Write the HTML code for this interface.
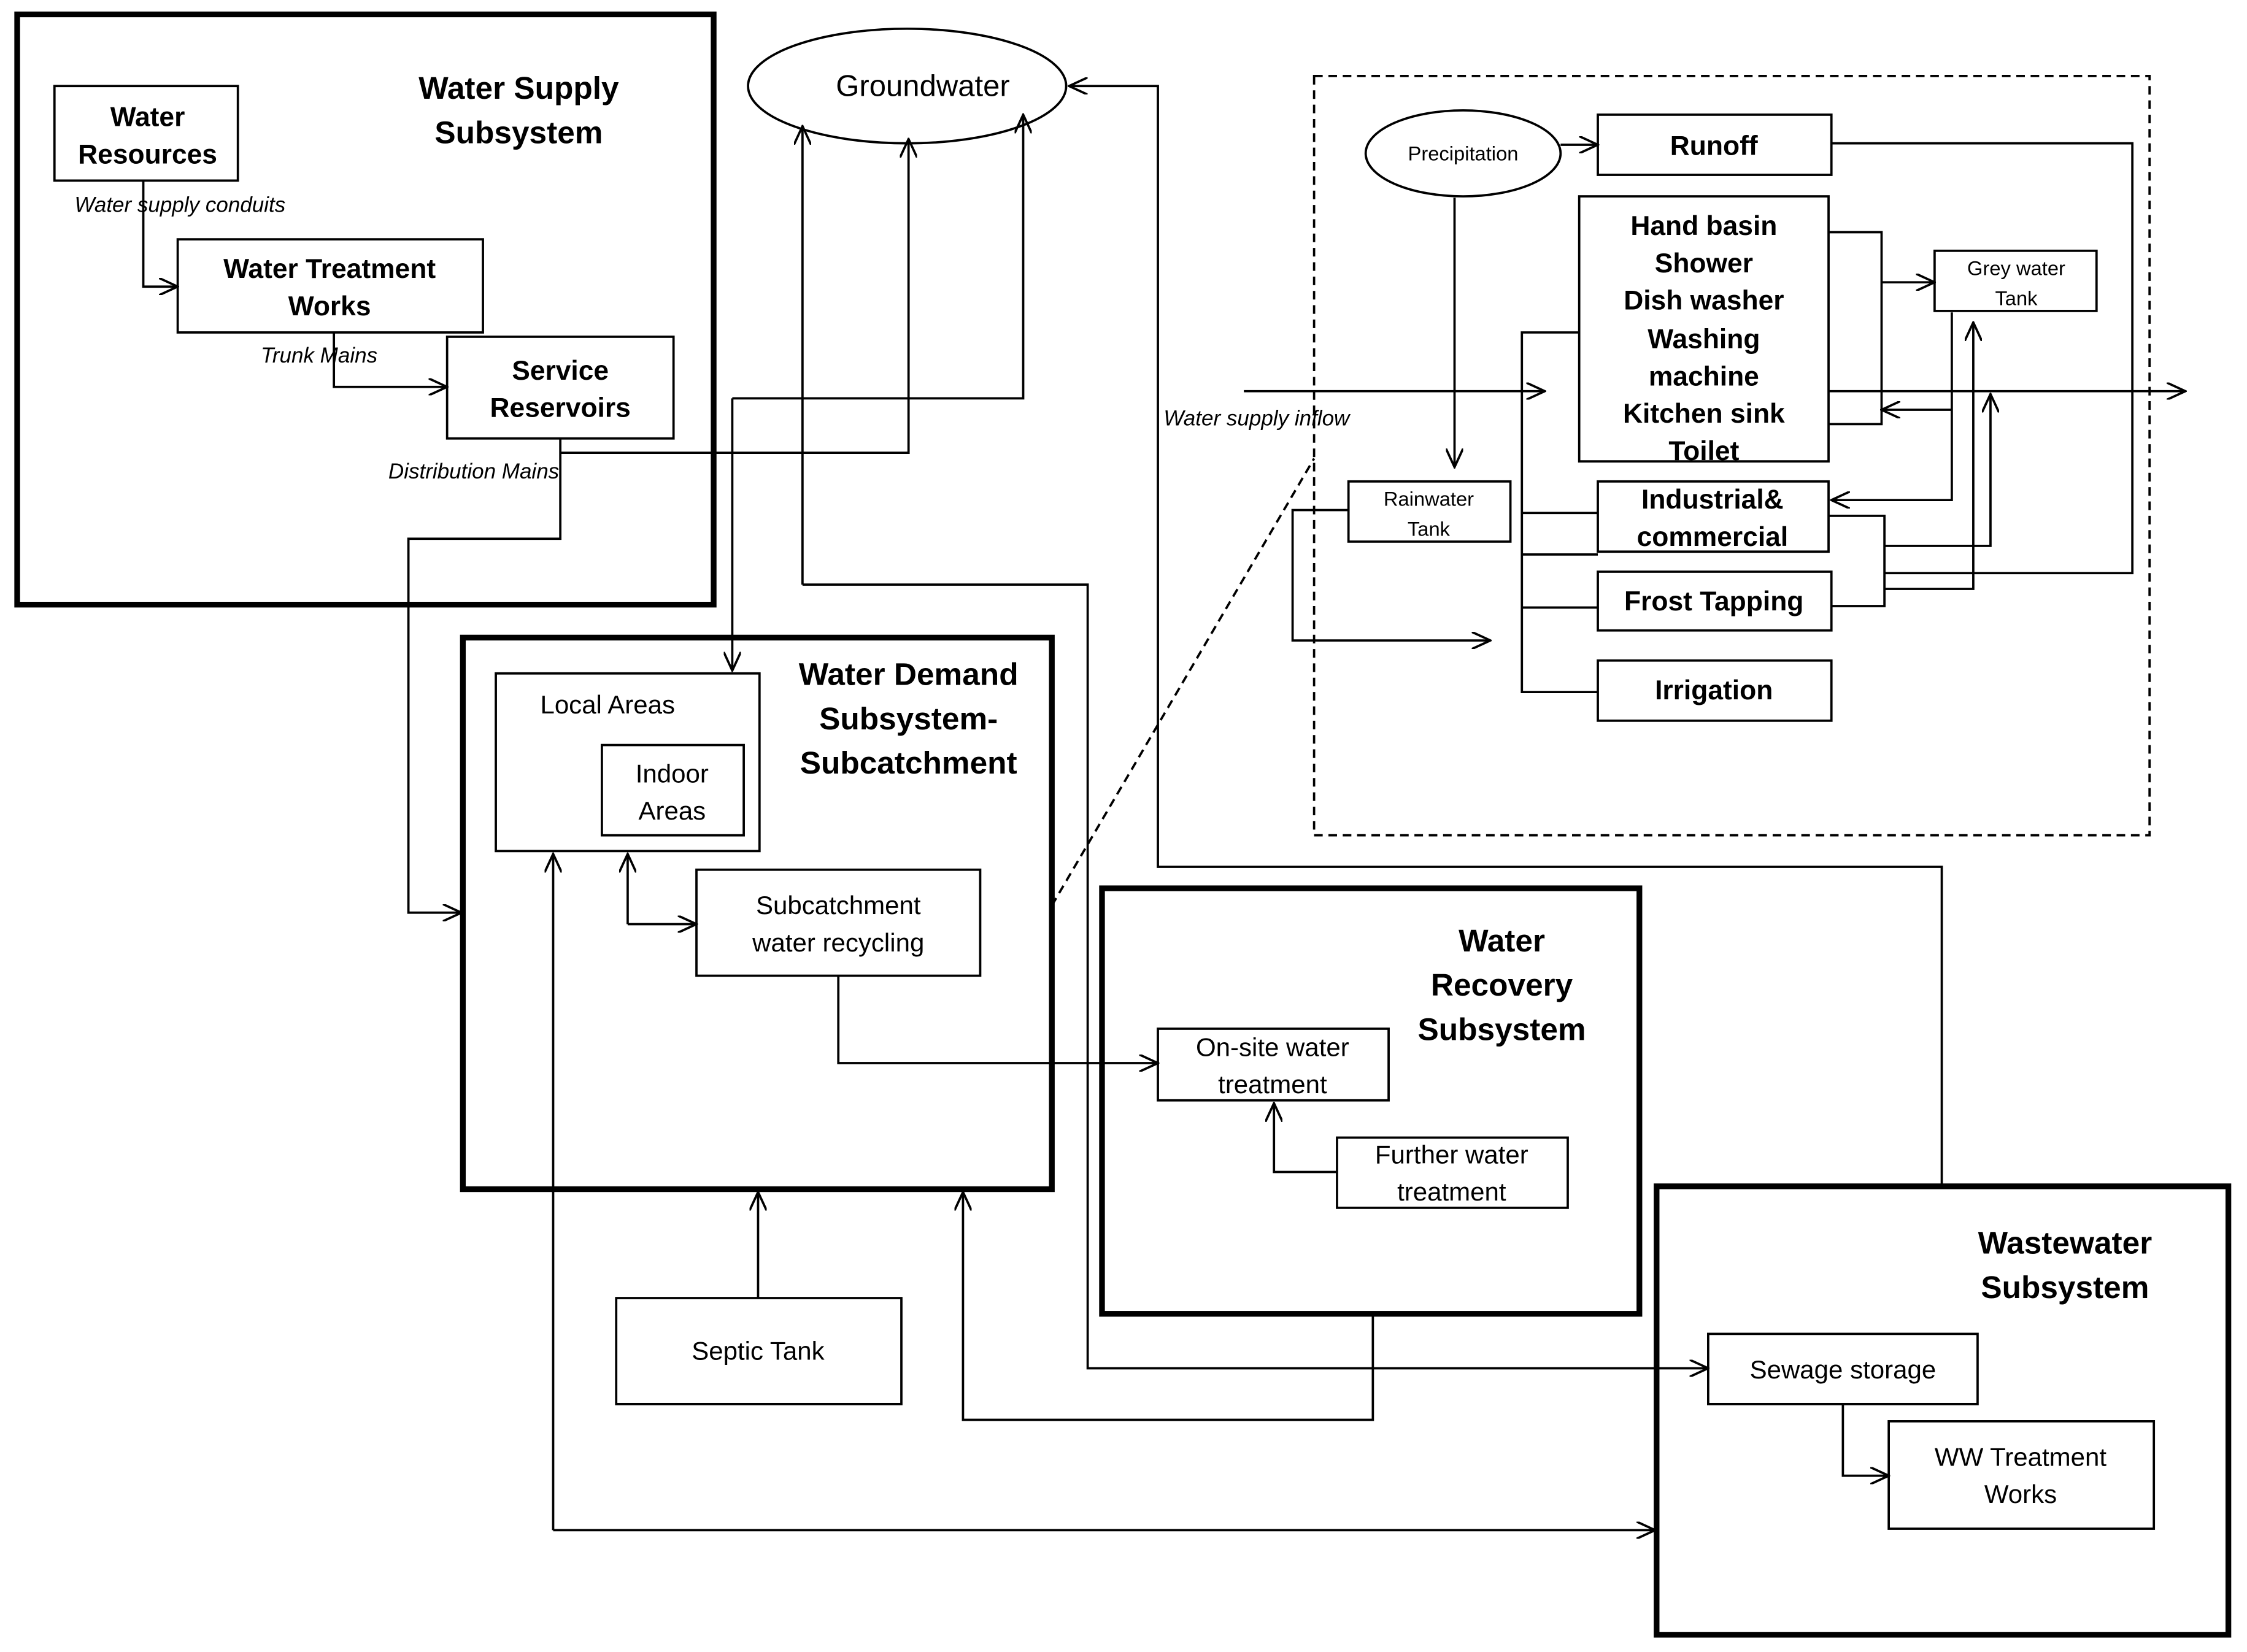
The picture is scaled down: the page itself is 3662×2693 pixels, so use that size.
<!DOCTYPE html>
<html><head><meta charset="utf-8"><style>
html,body{margin:0;padding:0;background:#fff;}
svg{display:block;}
text{font-family:"Liberation Sans",sans-serif;fill:#000;text-anchor:middle;}
.b{font-weight:bold;font-size:19px;}
.t{font-weight:bold;font-size:22px;}
.n{font-size:18px;}
.s{font-size:14px;}
.i{font-style:italic;font-size:15px;text-anchor:start;}
.r{fill:none;stroke:#000;stroke-width:1.6;}
.k{fill:none;stroke:#000;stroke-width:4;}
.l{fill:none;stroke:#000;stroke-width:1.6;}
</style></head><body>
<svg width="3662" height="2693" viewBox="0 0 1568 1153" xmlns="http://www.w3.org/2000/svg">
<defs><marker id="a" markerWidth="14" markerHeight="12" refX="13" refY="6" orient="auto" markerUnits="userSpaceOnUse"><path d="M0,0 L13,6 L0,12" fill="none" stroke="#000" stroke-width="1.6"/></marker></defs>

<!-- Water Supply -->
<rect class="k" x="12" y="10" width="486" height="412"/>
<text class="t" x="362" y="69">Water Supply</text>
<text class="t" x="362" y="100">Subsystem</text>
<rect class="r" x="38" y="60" width="128" height="66"/>
<text class="b" x="103" y="88">Water</text><text class="b" x="103" y="114">Resources</text>
<text class="i" x="52" y="148">Water  supply conduits</text>
<path class="l" d="M100,126 V200 H124" marker-end="url(#a)"/>
<rect class="r" x="124" y="167" width="213" height="65"/>
<text class="b" x="230" y="194">Water Treatment</text><text class="b" x="230" y="220">Works</text>
<text class="i" x="182" y="253">Trunk   Mains</text>
<path class="l" d="M233,232 V270 H312" marker-end="url(#a)"/>
<rect class="r" x="312" y="235" width="158" height="71"/>
<text class="b" x="391" y="265">Service</text><text class="b" x="391" y="291">Reservoirs</text>
<text class="i" x="271" y="334">Distribution  Mains</text>
<path class="l" d="M391,316 H634 V97" marker-end="url(#a)"/>
<path class="l" d="M391,306 V376 H285 V637 H322" marker-end="url(#a)"/>

<!-- Groundwater -->
<ellipse class="r" cx="633" cy="60" rx="111" ry="40"/>
<text x="644" y="67" style="font-size:21px">Groundwater</text>
<path class="l" d="M511,278 H714 V80" marker-end="url(#a)"/>
<path class="l" d="M511,278 V468" marker-end="url(#a)"/>
<path class="l" d="M1355,828 V605 H808 V60 H746" marker-end="url(#a)"/>
<path class="l" d="M560,408 V88" marker-end="url(#a)"/>
<path class="l" d="M560,408 H759 V955 H1192" marker-end="url(#a)"/>

<!-- Water Demand -->
<rect class="k" x="323" y="445" width="411" height="385"/>
<text class="t" x="634" y="478">Water Demand</text>
<text class="t" x="634" y="509">Subsystem-</text>
<text class="t" x="634" y="540">Subcatchment</text>
<rect class="r" x="346" y="470" width="184" height="124"/>
<text class="n" x="424" y="498">Local Areas</text>
<rect class="r" x="420" y="520" width="99" height="63"/>
<text class="n" x="469" y="546">Indoor</text><text class="n" x="469" y="572">Areas</text>
<rect class="r" x="486" y="607" width="198" height="74"/>
<text class="n" x="585" y="638">Subcatchment</text><text class="n" x="585" y="664">water recycling</text>
<path class="l" d="M438,645 V596" marker-end="url(#a)"/>
<path class="l" d="M438,645 H486" marker-end="url(#a)"/>
<path class="l" d="M585,681 V742 H808" marker-end="url(#a)"/>
<path class="l" d="M734,632 L917,320" stroke-dasharray="6,4"/>

<!-- Water Recovery -->
<rect class="k" x="769" y="620" width="375" height="297"/>
<text class="t" x="1048" y="664">Water</text>
<text class="t" x="1048" y="695">Recovery</text>
<text class="t" x="1048" y="726">Subsystem</text>
<rect class="r" x="808" y="718" width="161" height="50"/>
<text class="n" x="888" y="737">On-site water</text><text class="n" x="888" y="763">treatment</text>
<rect class="r" x="933" y="794" width="161" height="49"/>
<text class="n" x="1013" y="812">Further water</text><text class="n" x="1013" y="838">treatment</text>
<path class="l" d="M933,818 H889 V770" marker-end="url(#a)"/>
<path class="l" d="M958,917 V991 H672 V832" marker-end="url(#a)"/>

<!-- Septic -->
<rect class="r" x="430" y="906" width="199" height="74"/>
<text class="n" x="529" y="949">Septic Tank</text>
<path class="l" d="M529,906 V832" marker-end="url(#a)"/>
<path class="l" d="M386,1068 V596" marker-end="url(#a)"/>
<path class="l" d="M386,1068 H1155" marker-end="url(#a)"/>

<!-- Wastewater -->
<rect class="k" x="1156" y="828" width="399" height="313"/>
<text class="t" x="1441" y="875">Wastewater</text>
<text class="t" x="1441" y="906">Subsystem</text>
<rect class="r" x="1192" y="931" width="188" height="49"/>
<text class="n" x="1286" y="962">Sewage storage</text>
<rect class="r" x="1318" y="992" width="185" height="75"/>
<text class="n" x="1410" y="1023">WW Treatment</text><text class="n" x="1410" y="1049">Works</text>
<path class="l" d="M1286,980 V1030 H1318" marker-end="url(#a)"/>

<!-- Detail dashed -->
<rect x="917" y="53" width="583" height="530" fill="none" stroke="#000" stroke-width="1.6" stroke-dasharray="6,4"/>
<ellipse class="r" cx="1021" cy="107" rx="68" ry="30"/>
<text x="1021" y="112" style="font-size:14px">Precipitation</text>
<path class="l" d="M1089,101 H1115" marker-end="url(#a)"/>
<rect class="r" x="1115" y="80" width="163" height="42"/>
<text class="b" x="1196" y="108">Runoff</text>
<path class="l" d="M1278,100 H1488 V400 H1315"/>
<rect class="r" x="1102" y="137" width="174" height="185"/>
<text class="b" x="1189" y="164">Hand basin</text>
<text class="b" x="1189" y="190">Shower</text>
<text class="b" x="1189" y="216">Dish washer</text>
<text class="b" x="1189" y="243">Washing</text>
<text class="b" x="1189" y="269">machine</text>
<text class="b" x="1189" y="295">Kitchen sink</text>
<text class="b" x="1189" y="321">Toilet</text>
<rect class="r" x="1350" y="175" width="113" height="42"/>
<text class="s" x="1407" y="192">Grey water</text><text class="s" x="1407" y="213">Tank</text>
<path class="l" d="M1276,162 H1313 V296 H1276"/>
<path class="l" d="M1313,197 H1350" marker-end="url(#a)"/>
<path class="l" d="M868,273 H1078" marker-end="url(#a)"/>
<text class="i" x="812" y="297">Water supply   inflow</text>
<path class="l" d="M1276,273 H1525" marker-end="url(#a)"/>
<path class="l" d="M1362,286 H1313" marker-end="url(#a)"/>
<path class="l" d="M1362,218 V349 H1278" marker-end="url(#a)"/>
<path class="l" d="M1315,411 H1377 V225" marker-end="url(#a)"/>
<path class="l" d="M1315,381 H1389 V275" marker-end="url(#a)"/>
<path class="l" d="M1102,232 H1062 V483 H1115 M1062,358 H1115 M1062,424 H1115 M1062,387 H1115"/>
<rect class="r" x="941" y="336" width="113" height="42"/>
<text class="s" x="997" y="353">Rainwater</text><text class="s" x="997" y="374">Tank</text>
<path class="l" d="M1015,138 V326" marker-end="url(#a)"/>
<path class="l" d="M941,356 H902 V447 H1040" marker-end="url(#a)"/>
<rect class="r" x="1115" y="336" width="161" height="49" style="fill:#fff"/>
<text class="b" x="1195" y="355">Industrial&amp;</text><text class="b" x="1195" y="381">commercial</text>
<rect class="r" x="1115" y="399" width="163" height="41"/>
<text class="b" x="1196" y="426">Frost Tapping</text>
<rect class="r" x="1115" y="461" width="163" height="42"/>
<text class="b" x="1196" y="488">Irrigation</text>
<path class="l" d="M1276,360 H1315 V423 H1278"/>
</svg>
</body></html>
